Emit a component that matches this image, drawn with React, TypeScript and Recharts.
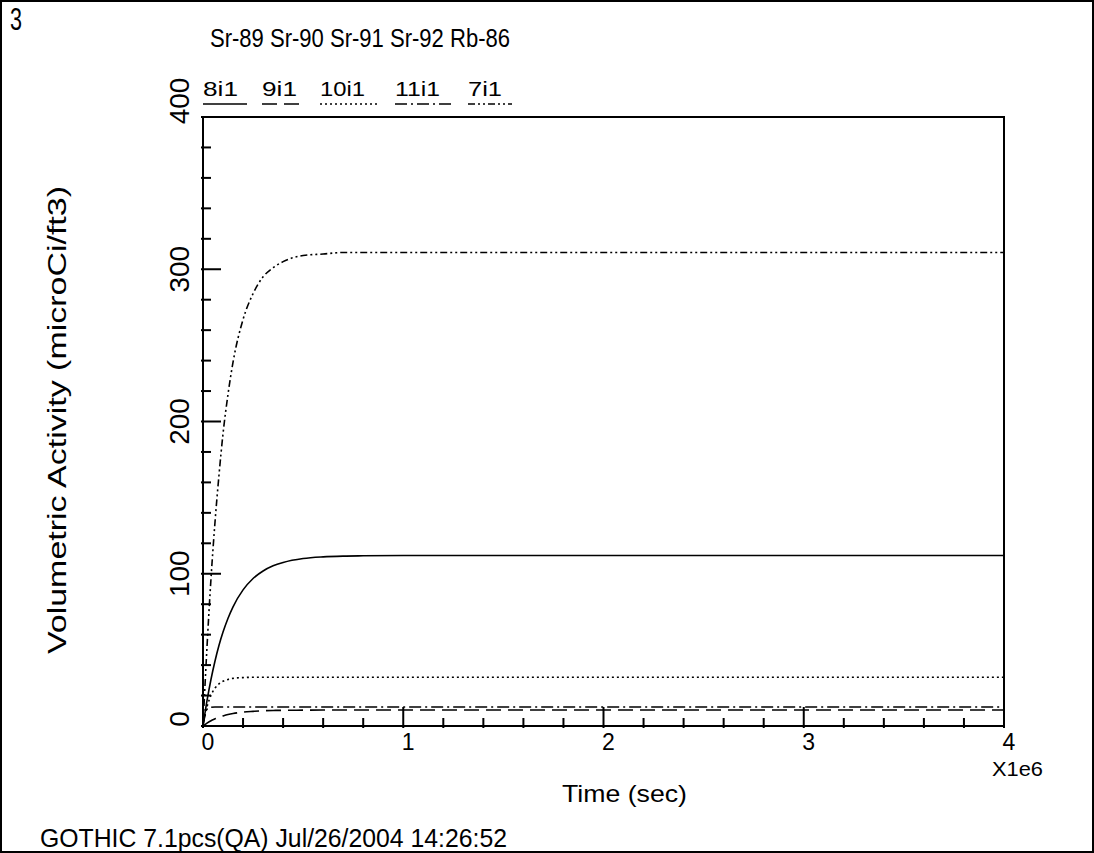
import React from 'react'
import { LineChart, Line, XAxis, YAxis, ReferenceArea } from 'recharts'

// time in units of 1e6 sec
const timeE6 = [0, 0.02, 0.04, 0.06, 0.08, 0.1, 0.125, 0.15, 0.2, 0.25, 0.3, 0.35, 0.4, 0.5, 0.6, 0.7, 0.8, 1.0, 1.5, 2.0, 3.0, 4.0]

// volumetric activity (microCi/ft3)
const s8i1 = [0, 16.6, 30.7, 42.7, 53, 61.7, 70.8, 78.3, 89.4, 96.9, 101.8, 105.2, 107.4, 110, 111.1, 111.6, 111.8, 112, 112, 112, 112, 112]
const s9i1 = [0, 1.9, 3.5, 4.7, 5.8, 6.6, 7.5, 8.2, 9.1, 9.6, 10, 10.2, 10.3, 10.4, 10.5, 10.5, 10.5, 10.5, 10.5, 10.5, 10.5, 10.5]
const s10i1 = [0, 12.6, 20.2, 24.9, 27.7, 29.4, 30.6, 31.3, 31.8, 32, 32, 32, 32, 32, 32, 32, 32, 32, 32, 32, 32, 32]
const s11i1 = [0, 11, 12.3, 12.5, 12.5, 12.5, 12.5, 12.5, 12.5, 12.5, 12.5, 12.5, 12.5, 12.5, 12.5, 12.5, 12.5, 12.5, 12.5, 12.5, 12.5, 12.5]
const s7i1 = [0, 52, 97, 134, 165, 192, 218, 239, 267, 284, 295, 301, 305, 309, 310, 311, 311, 311, 311, 311, 311, 311]

const xTicks = [0, 0.2, 0.4, 0.6, 0.8, 1, 1.2, 1.4, 1.6, 1.8, 2, 2.2, 2.4, 2.6, 2.8, 3, 3.2, 3.4, 3.6, 3.8, 4]
const yTicks = [0, 20, 40, 60, 80, 100, 120, 140, 160, 180, 200, 220, 240, 260, 280, 300, 320, 340, 360, 380, 400]

const series = [
  { key: 's8i1', name: '8i1', dash: undefined, lx: 203, lw: 44, tw: 35 },
  { key: 's9i1', name: '9i1', dash: '15 7', lx: 262, lw: 43, tw: 35 },
  { key: 's10i1', name: '10i1', dash: '2 3', lx: 320, lw: 58, tw: 45 },
  { key: 's11i1', name: '11i1', dash: '12 4 2 4', lx: 395, lw: 58, tw: 45 },
  { key: 's7i1', name: '7i1', dash: '7 3 2 3 2 3', lx: 468, lw: 44, tw: 34 },
]

const data = timeE6.map((t, i) => ({
  t,
  s8i1: s8i1[i],
  s9i1: s9i1[i],
  s10i1: s10i1[i],
  s11i1: s11i1[i],
  s7i1: s7i1[i],
}))

const font = '"Liberation Sans", Arial, sans-serif'

const isMajor = (v: number, step: number) => Math.abs(v / step - Math.round(v / step)) < 1e-6

function XTick(props: any) {
  const { x, y, payload } = props
  const v = payload.value
  const major = isMajor(v, 1)
  return (
    <g>
      <line x1={x} x2={x} y1={y} y2={y - (major ? 21 : 10)} stroke="#000" strokeWidth={2} />
      {major && (
        <text x={x + 5} y={y + 22} textAnchor="middle" fontSize={23} fontFamily={font} fill="#000">
          {Math.round(v)}
        </text>
      )}
    </g>
  )
}

function YTick(props: any) {
  const { x, y, payload } = props
  const v = payload.value
  const major = isMajor(v, 100)
  const shift = v === 400 ? -16 : v === 0 ? -7 : 0
  const cy = y + shift
  return (
    <g>
      <line x1={x} x2={x + (major ? 20 : 10)} y1={y} y2={y} stroke="#000" strokeWidth={2} />
      {major && (
        <text
          x={189}
          y={cy}
          transform={`rotate(-90 189 ${cy})`}
          textAnchor="middle"
          fontSize={28}
          fontFamily={font}
          fill="#000"
        >
          {v}
        </text>
      )}
    </g>
  )
}

export default function App() {
  return (
    <div style={{ position: 'absolute', left: 0, top: 0, width: 1094, height: 853, background: '#fff' }}>
      <LineChart width={1094} height={853} data={data} margin={{ top: 117, right: 90, bottom: 0, left: 0 }}>
        <XAxis
          dataKey="t"
          type="number"
          domain={[0, 4]}
          ticks={xTicks}
          height={127}
          tickLine={false}
          axisLine={false}
          tickSize={0}
          tick={<XTick />}
          interval={0}
        />
        <YAxis
          type="number"
          domain={[0, 400]}
          ticks={yTicks}
          width={203}
          tickLine={false}
          axisLine={false}
          tickSize={0}
          tick={<YTick />}
          interval={0}
        />
        <ReferenceArea x1={0} x2={4} y1={0} y2={400} fill="none" stroke="#000" strokeWidth={2} ifOverflow="visible" />
        {series.map((s) => (
          <Line
            key={s.key}
            dataKey={s.key}
            type="monotone"
            stroke="#000"
            strokeWidth={1.6}
            strokeDasharray={s.dash}
            dot={false}
            isAnimationActive={false}
          />
        ))}
      </LineChart>
      <svg width={1094} height={853} style={{ position: 'absolute', left: 0, top: 0, pointerEvents: 'none' }}>
        <rect x={1} y={1} width={1092} height={851} fill="none" stroke="#000" strokeWidth={2} />
        <text x={10} y={30} fontSize={32} fontFamily={font} textLength={12} lengthAdjust="spacingAndGlyphs">3</text>
        <text x={210} y={47} fontSize={26} fontFamily={font} textLength={300} lengthAdjust="spacingAndGlyphs">
          Sr-89 Sr-90 Sr-91 Sr-92 Rb-86
        </text>
        {series.map((s) => (
          <g key={s.key}>
            <text x={s.lx} y={96} fontSize={20} fontFamily={font} textLength={s.tw} lengthAdjust="spacingAndGlyphs">
              {s.name}
            </text>
            <line x1={s.lx} x2={s.lx + s.lw} y1={104} y2={104} stroke="#000" strokeWidth={1.6} strokeDasharray={s.dash} />
          </g>
        ))}
        <text
          x={66}
          y={420}
          transform="rotate(-90 66 420)"
          textAnchor="middle"
          fontSize={26}
          fontFamily={font}
          textLength={468}
          lengthAdjust="spacingAndGlyphs"
        >
          Volumetric Activity (microCi/ft3)
        </text>
        <text x={992} y={776} fontSize={21} fontFamily={font} textLength={51} lengthAdjust="spacingAndGlyphs">X1e6</text>
        <text x={562} y={802} fontSize={24} fontFamily={font} textLength={125} lengthAdjust="spacingAndGlyphs">
          Time (sec)
        </text>
        <text x={40} y={847} fontSize={26} fontFamily={font} textLength={467} lengthAdjust="spacingAndGlyphs">
          GOTHIC 7.1pcs(QA) Jul/26/2004 14:26:52
        </text>
      </svg>
    </div>
  )
}
